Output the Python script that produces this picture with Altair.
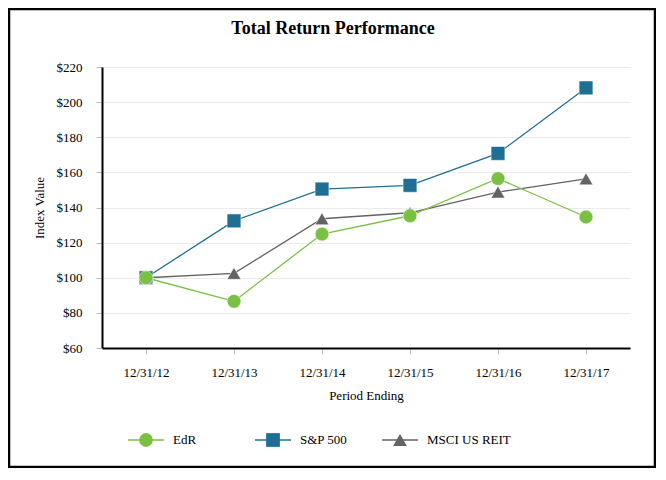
import altair as alt
import pandas as pd

# Period labels and index values.
periods = ["12/31/12", "12/31/13", "12/31/14", "12/31/15", "12/31/16", "12/31/17"]
edr = [100.0, 86.6, 124.9, 135.3, 156.5, 134.6]
sp500 = [100.0, 132.4, 150.5, 152.6, 170.8, 208.1]
msci = [100.0, 102.5, 133.6, 137.0, 148.8, 156.3]

series_names = ["EdR", "S&P 500", "MSCI US REIT"]
series_colors = ["#7AC143", "#1F6F95", "#636363"]
series_shapes = ["circle", "square", "triangle-up"]
chart_title = "Total Return Performance"

# draw order: S&P, MSCI, then EdR on top
rows = []
for name, vals in [("S&P 500", sp500), ("MSCI US REIT", msci), ("EdR", edr)]:
    for p, v in zip(periods, vals):
        rows.append({"period": p, "value": v, "series": name})
df = pd.DataFrame(rows)
legend_df = pd.DataFrame({"series": series_names})

FONT = "Liberation Serif"

x_enc = alt.X("period:O", sort=periods, title="Period Ending",
              scale=alt.Scale(type="point", padding=0.5),
              axis=alt.Axis(labelAngle=0, domainColor="black", domainWidth=2,
                            tickColor="#bdbdbd", tickSize=6, labelPadding=12,
                            titlePadding=10, gridColor="#e0e0e0"))
y_enc = alt.Y("value:Q", title="Index Value",
              scale=alt.Scale(domain=[60, 220], nice=False, zero=False),
              axis=alt.Axis(values=list(range(60, 221, 20)), format="$,.0f",
                            domainColor="black", domainWidth=2, tickColor="#bdbdbd",
                            tickSize=6, labelPadding=14, titlePadding=10,
                            gridColor="#ebebeb", labelOverlap=False))
color_enc = alt.Color("series:N", scale=alt.Scale(domain=series_names, range=series_colors),
                      legend=None)
shape_enc = alt.Shape("series:N", scale=alt.Scale(domain=series_names, range=series_shapes),
                      legend=None)

lines = alt.Chart(df).mark_line(strokeWidth=1.3).encode(
    x=x_enc, y=y_enc, color=color_enc, detail="series:N"
)
points = alt.Chart(df).mark_point(filled=True, opacity=1, size=190,
                                  stroke="white", strokeWidth=0.5).encode(
    x=x_enc, y=y_enc, color=color_enc, shape=shape_enc
)
main = alt.layer(lines, points)

# Hand-made legend under the plot
leg_x = alt.X("series:N", sort=series_names,
              scale=alt.Scale(type="point", range=[44, 298], padding=0), axis=None)
leg_lines = alt.Chart(legend_df).mark_rule(strokeWidth=1.5, xOffset=-18, x2Offset=18).encode(
    x=leg_x, x2="series:N", y=alt.value(373), color=color_enc
)
leg_points = alt.Chart(legend_df).mark_point(filled=True, opacity=1, size=190).encode(
    x=leg_x, y=alt.value(373), color=color_enc, shape=shape_enc
)
leg_text = alt.Chart(legend_df).mark_text(align="left", dx=27, fontSize=13, font=FONT,
                                          color="black").encode(
    x=leg_x, y=alt.value(373), text="series:N"
)
# Title and outer frame around the whole figure
title = alt.Chart(legend_df.head(1)).mark_text(fontSize=18, font=FONT, fontWeight="bold",
                                               color="black", baseline="middle").encode(
    x=alt.value(231), y=alt.value(-38), text=alt.value(chart_title)
)
frame = alt.Chart(legend_df.head(1)).mark_rect(fill=None, stroke="black", strokeWidth=2.5).encode(
    x=alt.value(-93), x2=alt.value(553), y=alt.value(-58), y2=alt.value(400)
)
legend = alt.layer(leg_lines, leg_points, leg_text, title, frame)

chart = alt.layer(main, legend).resolve_scale(
    x="independent"
).properties(
    width=528, height=281,
    background="white",
    autosize=alt.AutoSizeParams(type="none"),
    padding={"left": 94, "top": 59, "right": 26, "bottom": 120},
).configure_axis(
    labelFont=FONT, titleFont=FONT, labelFontSize=13, titleFontSize=13,
    labelColor="black", titleColor="black", titleFontWeight="normal",
).configure_view(stroke=None)

chart.save("out.html", embed_options={"renderer": "svg", "actions": False})
